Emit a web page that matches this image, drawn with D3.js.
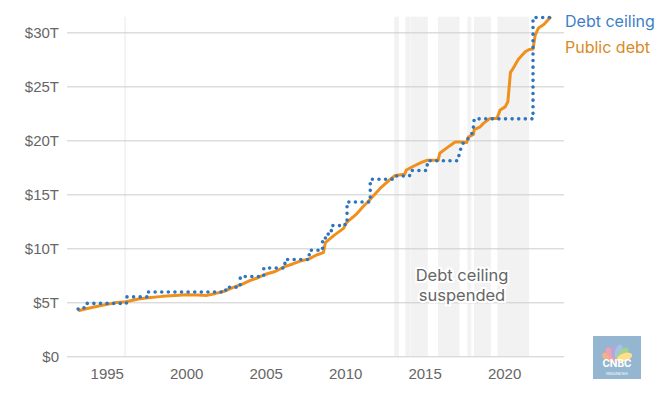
<!DOCTYPE html>
<html>
<head>
<meta charset="utf-8">
<script src="https://cdn.jsdelivr.net/npm/d3@7"></script>
<style>
  body { margin: 0; background: #fff; }
  svg { display: block; font-family: Inter, "Noto Sans", sans-serif; }
</style>
</head>
<body>
<svg id="chart"></svg>
<script>
// decimal years, trillions of dollars
const publicDebt = [
  [1993.2, 4.22], [1993.7, 4.4], [1994.5, 4.65], [1995.5, 4.95], [1996.2, 5.06],
  [1997.0, 5.3], [1997.6, 5.43], [1998.5, 5.55], [1999.3, 5.62], [2000.0, 5.7],
  [2000.7, 5.68], [2001.3, 5.64], [2001.8, 5.8], [2002.45, 6.05], [2003.0, 6.4],
  [2003.5, 6.67], [2004.0, 7.0], [2004.55, 7.3], [2005.0, 7.6], [2005.6, 7.85],
  [2006.2, 8.3], [2006.7, 8.55], [2007.17, 8.82], [2007.7, 9.0], [2008.2, 9.38],
  [2008.63, 9.6], [2008.75, 10.5], [2008.85, 10.65], [2009.3, 11.2], [2009.9, 11.85],
  [2010.1, 12.4], [2010.73, 13.2], [2011.15, 13.9], [2011.36, 14.2], [2011.58, 14.55],
  [2012.2, 15.55], [2012.83, 16.39], [2013.15, 16.75], [2013.75, 16.85], [2013.85, 17.25],
  [2014.3, 17.6], [2014.8, 17.95], [2015.14, 18.15], [2015.85, 18.15], [2015.95, 18.8],
  [2016.4, 19.3], [2016.92, 19.85], [2017.2, 19.85], [2017.65, 19.8], [2017.75, 20.3],
  [2018.07, 20.55], [2018.12, 21.0], [2018.5, 21.25], [2018.7, 21.57], [2019.12, 22.03],
  [2019.55, 22.03], [2019.75, 22.8], [2020.07, 23.1], [2020.24, 23.6], [2020.4, 26.3],
  [2020.5, 26.5], [2020.9, 27.5], [2021.33, 28.2], [2021.58, 28.42], [2021.82, 28.45],
  [2021.96, 29.75], [2022.16, 30.4], [2022.48, 30.7], [2022.73, 31.1], [2022.95, 31.45]
];

const debtCeiling = [
  [1993.2, 4.37], [1993.55, 4.4], [1993.65, 4.9], [1996.24, 4.9], [1996.24, 5.5],
  [1997.6, 5.5], [1997.6, 5.95], [2002.49, 5.95], [2002.49, 6.4], [2003.4, 6.4],
  [2003.4, 7.384], [2004.88, 7.384], [2004.88, 8.184], [2006.21, 8.184], [2006.21, 8.965],
  [2007.74, 8.965], [2007.74, 9.815], [2008.58, 9.815], [2008.58, 10.615], [2008.76, 10.615],
  [2008.76, 11.315], [2009.13, 11.315], [2009.13, 12.104], [2009.99, 12.104], [2009.99, 12.394],
  [2010.12, 12.394], [2010.12, 14.294], [2011.58, 14.294], [2011.58, 16.394], [2012.95, 16.394],
  [2013.05, 16.7], [2014.05, 16.7], [2014.15, 17.212], [2015.12, 17.212], [2015.2, 18.113],
  [2017.1, 18.113], [2017.2, 18.9], [2017.4, 19.7], [2017.7, 20.1], [2017.95, 20.5],
  [2018.08, 21.3], [2018.12, 21.988], [2021.82, 21.988], [2021.82, 31.381], [2022.95, 31.381]
];

const suspensions = [
  [1996.1, 1996.22], [2013.09, 2013.38], [2013.79, 2014.1], [2014.12, 2015.2],
  [2015.84, 2017.2], [2017.69, 2017.94], [2018.11, 2019.17], [2019.58, 2021.58]
];

const yTicks = [0, 5, 10, 15, 20, 25, 30];
const xTicks = [1995, 2000, 2005, 2010, 2015, 2020];

const width = 661, height = 397;
const svg = d3.select("#chart").attr("width", width).attr("height", height);

const x = d3.scaleLinear().domain([1992.5, 2023.77]).range([67, 564]);
const y = d3.scaleLinear().domain([0, 31.45]).range([356.3, 16.7]);

svg.append("g")
  .selectAll("rect")
  .data(suspensions)
  .enter()
  .append("rect")
  .attr("x", d => x(d[0]))
  .attr("width", d => x(d[1]) - x(d[0]))
  .attr("y", y(31.45))
  .attr("height", y(0) - y(31.45))
  .attr("fill", "#f2f2f2");

const yAxis = d3.axisLeft(y)
  .tickValues(yTicks)
  .tickSize(-(564 - 67))
  .tickPadding(8)
  .tickFormat(d => "$" + d + (d ? "T" : ""));

svg.append("g")
  .attr("transform", "translate(67,0)")
  .call(yAxis)
  .call(g => g.select(".domain").remove())
  .call(g => g.selectAll(".tick line").attr("stroke", "#cccccc"))
  .call(g => g.selectAll(".tick text").attr("fill", "#666").style("font-size", "15px"));

const xAxis = d3.axisBottom(x)
  .tickValues(xTicks)
  .tickSize(0)
  .tickPadding(12)
  .tickFormat(d3.format("d"));

svg.append("g")
  .attr("transform", `translate(0, ${y(0)})`)
  .call(xAxis)
  .call(g => g.select(".domain").remove())
  .call(g => g.selectAll(".tick text").attr("fill", "#666").style("font-size", "15px"));

// annotation
svg.append("text")
  .attr("x", 462)
  .attr("y", 281)
  .attr("text-anchor", "middle")
  .attr("fill", "#666")
  .attr("stroke", "#fff")
  .attr("stroke-width", 4)
  .attr("paint-order", "stroke")
  .style("font-size", "16.5px")
  .selectAll("tspan")
  .data(["Debt ceiling", "suspended"])
  .enter()
  .append("tspan")
  .attr("x", 462)
  .attr("dy", (d, i) => i ? 20 : 0)
  .text(d => d);

const line = d3.line().x(d => x(d[0])).y(d => y(d[1]));

svg.append("path")
  .datum(publicDebt)
  .attr("d", line)
  .attr("fill", "none")
  .attr("stroke", "#f0901c")
  .attr("stroke-width", 3)
  .attr("stroke-linejoin", "round");

svg.append("path")
  .datum(debtCeiling)
  .attr("d", line)
  .attr("fill", "none")
  .attr("stroke", "#2e75bf")
  .attr("stroke-width", 3.6)
  .attr("stroke-linecap", "round")
  .attr("stroke-dasharray", "0 6.6");

// legend
svg.append("text")
  .attr("x", 565).attr("y", 27)
  .attr("fill", "#3d7fc7")
  .style("font-size", "16px")
  .text("Debt ceiling");

svg.append("text")
  .attr("x", 565).attr("y", 53)
  .attr("fill", "#d98a26")
  .style("font-size", "16px")
  .text("Public debt");

// logo
const logo = svg.append("g").attr("transform", "translate(593,336)");
logo.append("rect").attr("width", 48).attr("height", 43).attr("fill", "#94b6d1");
const feathers = ["#f4b183", "#f0a0b0", "#b4a7d6", "#9fc5e8", "#a9d18e", "#ffe08a"];
logo.selectAll("ellipse")
  .data(feathers)
  .enter()
  .append("ellipse")
  .attr("cx", 0).attr("cy", -8).attr("rx", 4).attr("ry", 8)
  .attr("fill", d => d)
  .attr("transform", (d, i) => `translate(24,24) rotate(${-70 + i * 28})`);
logo.append("text")
  .attr("x", 24).attr("y", 31)
  .attr("text-anchor", "middle")
  .attr("fill", "#fff")
  .style("font-size", "10px")
  .style("font-weight", "bold")
  .text("CNBC");
logo.append("text")
  .attr("x", 24).attr("y", 38.5)
  .attr("text-anchor", "middle")
  .attr("fill", "#fff")
  .style("font-size", "4px")
  .text("INDONESIA");
</script>
</body>
</html>
